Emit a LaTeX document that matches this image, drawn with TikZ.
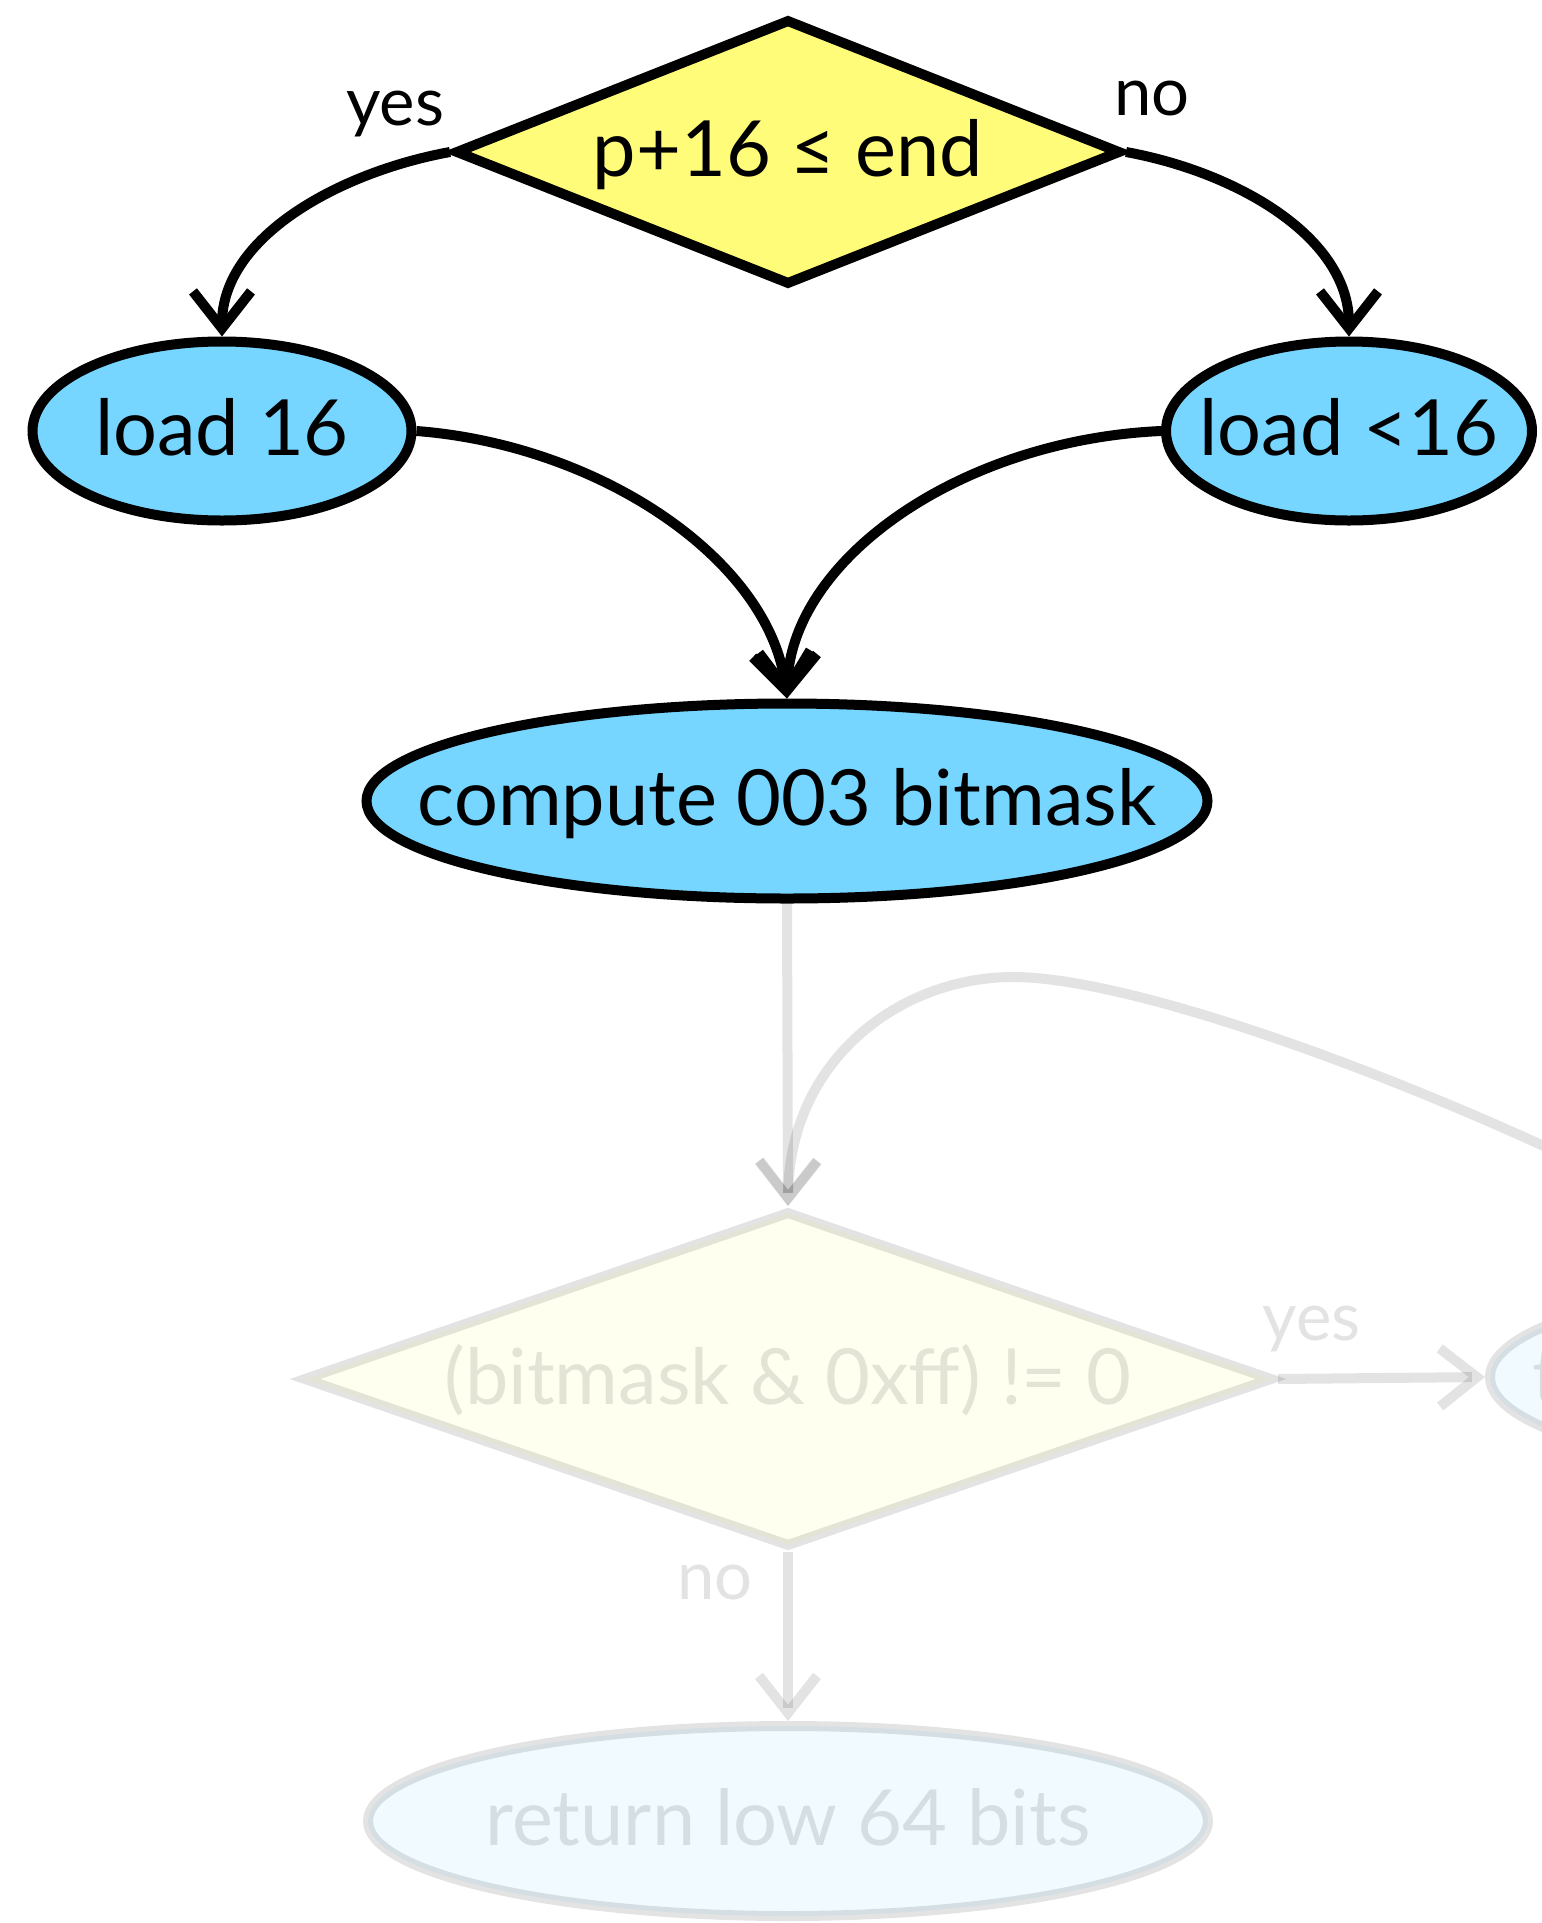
\documentclass[tikz,border=0pt]{standalone}
\usepackage{fontspec}
\setmainfont{Lato}
\usetikzlibrary{arrows.meta,shapes.geometric,calc}
\definecolor{banana}{HTML}{FFFC79}
\definecolor{sky}{HTML}{76D6FF}
\begin{document}
\begin{tikzpicture}[x=1pt,y=-1pt,
  line width=10pt,
  arr/.style={-{Straight Barb[length=37pt,width=58pt]}},
  dec/.style={shape=diamond, draw, fill=banana, inner sep=0pt, outer sep=5pt},
  proc/.style={shape=ellipse, draw, fill=sky, inner sep=0pt, outer sep=5pt},
  txt/.style={font=\fontsize{77.5}{90}\selectfont, inner sep=0pt, anchor=base},
  lbl/.style={font=\fontsize{67}{80}\selectfont, inner sep=0pt, anchor=base},
  faded/.style={opacity=0.11}]
\useasboundingbox (0,0) rectangle (1542,1923);
\clip (0,0) rectangle (1542,1923);

% active part
\node[dec, minimum width=666pt, minimum height=266pt] (d1) at (788,152) {};
\node[txt] (d1t) at ($(d1.center)+(0,24.7)$) {p+16 ≤ end};
\node[proc, minimum width=379pt, minimum height=179pt] (l16) at (222,431) {};
\node[txt] (l16t) at ($(l16.center)+(0,24)$) {load 16};
\node[proc, minimum width=366pt, minimum height=179pt] (lt16) at (1349,431) {};
\node[txt] (lt16t) at ($(lt16.center)+(0,24)$) {load <16};
\node[proc, minimum width=841pt, minimum height=195pt] (comp) at (787,801) {};
\node[txt] (compt) at ($(comp.center)+(0,24)$) {compute 003 bitmask};

\node[lbl] (yes1) at (395,125) {yes};
\node[lbl] (no1) at (1152,115) {no};

% faded part
\node[dec, faded, minimum width=970pt, minimum height=336pt] (d2) at (788,1379) {};
\node[txt, faded] (d2t) at ($(d2.center)+(0,25)$) {(bitmask \& 0xff) != 0};
\node[proc, faded, minimum width=708pt, minimum height=190pt] (rt) at (1844,1377) {};
\node[txt, faded, anchor=base west] (rtt) at (1527,1403) {t};
\node[proc, faded, minimum width=840pt, minimum height=190pt] (bot) at (788,1821) {};
\node[txt, faded] (bott) at ($(bot.center)+(0,24)$) {return low 64 bits};

\node[lbl, faded] (yes2) at (1311.5,1340.7) {yes};
\node[lbl, faded] (no2) at (715,1599) {no};

% connectors
\draw[arr] (d1.west) .. controls +(-110,20) and +(0,-100) .. (l16.north);
\draw[arr] (d1.east) .. controls +(110,20) and +(0,-100) .. (lt16.north);
\draw[arr] (l16.east) .. controls (600,445) and (770,560) .. (comp.north);
\draw[arr] (lt16.west) .. controls (960,440) and (790,560) .. (comp.north);

\coordinate (loopsrc) at (1750,1250);
\draw[arr, faded] (comp.south) -- (d2.north);
\draw[arr, faded] (loopsrc) .. controls (1500,1110) and (1150,977) .. (1013,977)
  .. controls (900,977) and (790,1060) .. (d2.north);
\draw[arr, faded] (d2.east) -- (rt.west);
\draw[arr, faded] (d2.south) -- (bot.north);
\end{tikzpicture}
\end{document}
